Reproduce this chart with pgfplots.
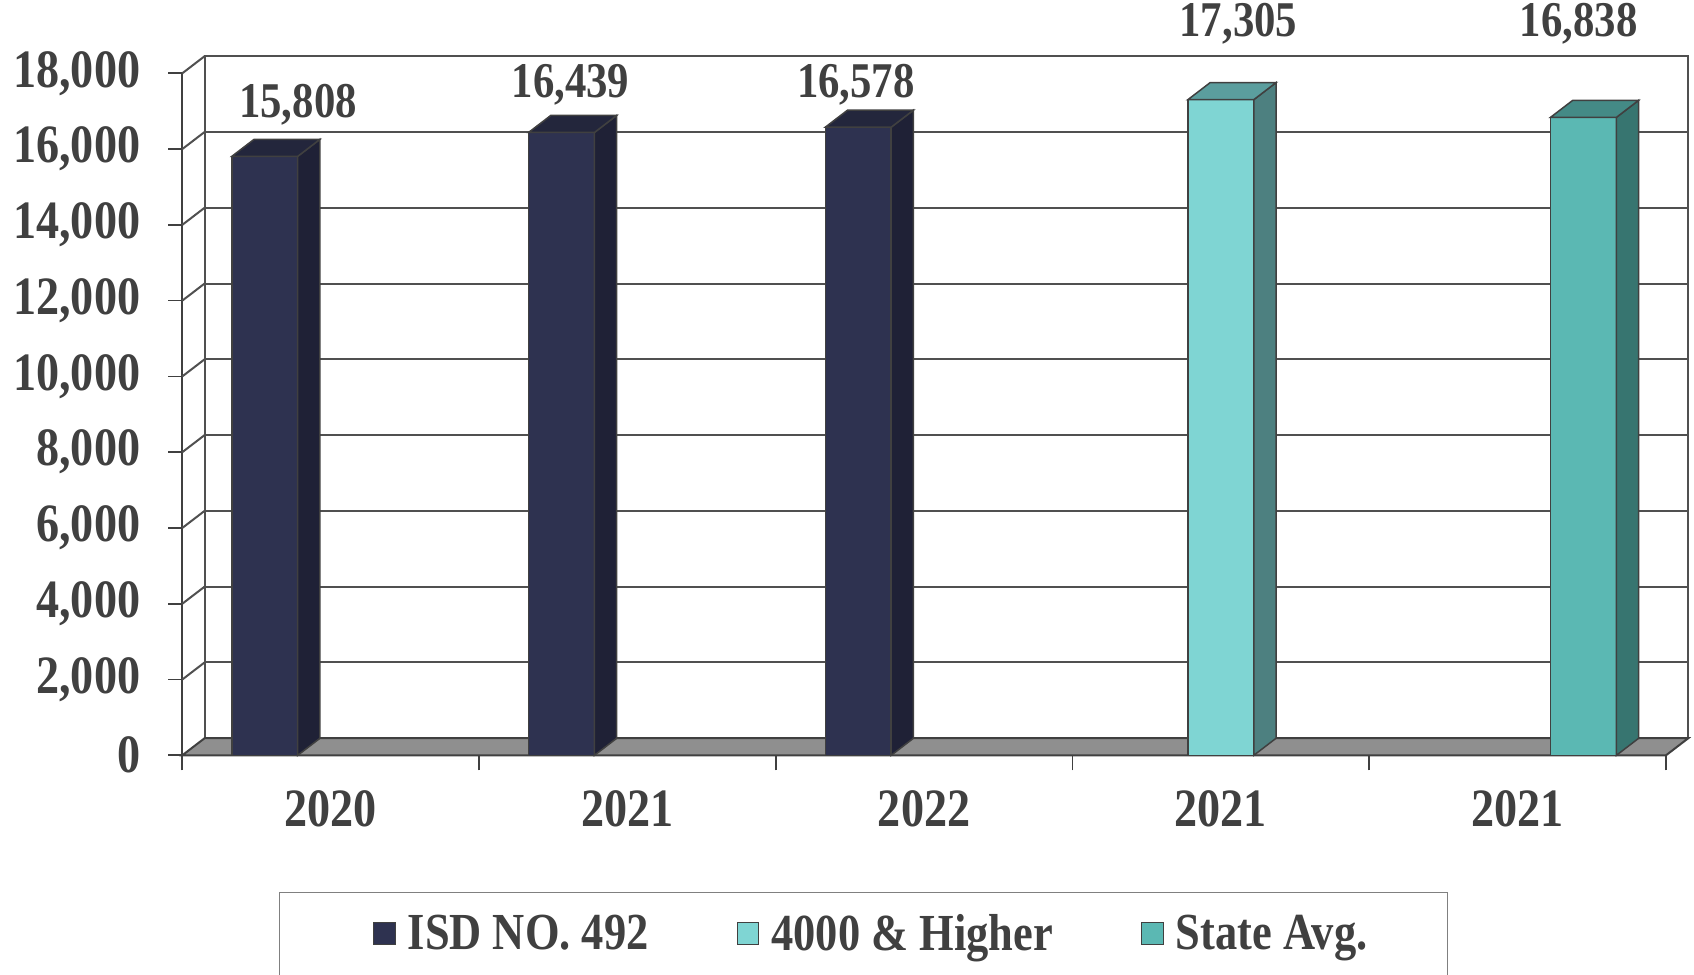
\documentclass[border=0pt]{standalone}
\usepackage{pgfplots}
\pgfplotsset{compat=1.18}
\usepackage{fontspec}
\setmainfont{Liberation Serif}[FakeStretch=0.855]
\definecolor{txt}{RGB}{64,64,64}
\definecolor{edge}{RGB}{64,64,64}
\definecolor{gridc}{RGB}{80,80,80}
\definecolor{floorc}{RGB}{143,143,143}
\definecolor{isdF}{RGB}{46,50,80}
\definecolor{isdS}{RGB}{31,33,54}
\definecolor{isdT}{RGB}{35,38,60}
\definecolor{hiF}{RGB}{127,213,211}
\definecolor{hiS}{RGB}{77,128,128}
\definecolor{hiT}{RGB}{91,158,158}
\definecolor{stF}{RGB}{91,184,179}
\definecolor{stS}{RGB}{55,117,112}
\definecolor{stT}{RGB}{68,138,134}
\pgfplotsset{
  mybar/.style={ybar, bar width=0.222, draw=edge, line width=0.75pt,
    legend image code/.code={\draw[##1, draw=edge, line width=0.6pt] (0pt,-5.4pt) rectangle (10.8pt,5.4pt);}},
  face/.style={draw=edge, line width=0.75pt, forget plot, mark=none},
}
\begin{document}
\begin{tikzpicture}
\begin{axis}[
  scale only axis, width=741.85pt, height=341pt,
  xmin=-0.5, xmax=4.5, ymin=0, ymax=18000,
  clip=false,
  axis x line*=bottom, axis y line*=left,
  axis line style={draw=edge, line width=1pt},
  xtick={0,1,2,3,4}, xticklabels={2020,2021,2022,2021,2021},
  minor xtick={-0.5,0.5,1.5,2.5,3.5,4.5},
  ytick={0,2000,...,18000},
  tick align=outside,
  major tick length=7pt, minor tick length=7.5pt,
  major x tick style={draw=none},
  tick style={draw=edge, line width=0.8pt},
  /pgf/number format/.cd, assume math mode=true, 1000 sep={,}, fixed, precision=0, /pgfplots/.cd,
  scaled y ticks=false,
  ticklabel style={font=\bfseries\fontsize{27}{30}\selectfont, text=txt},
  yticklabel shift=10.5pt,
  xticklabel shift=7pt,
  legend style={draw=none, fill=none, at={(0.4677,-0.2613)}, anchor=center,
    legend columns=3, font=\bfseries\fontsize{26}{28}\selectfont, text=txt,
    nodes={inner xsep=6pt},
    /tikz/every even column/.append style={column sep=38pt}},
]
% back wall and side wall
\draw[gridc, line width=1pt] (axis cs:-0.425,450) -- (axis cs:-0.425,18450) -- (axis cs:4.575,18450) -- (axis cs:4.575,450);
\draw[gridc, line width=1pt] (axis cs:-0.425,2450) -- (axis cs:4.575,2450);
\draw[gridc, line width=1pt] (axis cs:-0.425,4450) -- (axis cs:4.575,4450);
\draw[gridc, line width=1pt] (axis cs:-0.425,6450) -- (axis cs:4.575,6450);
\draw[gridc, line width=1pt] (axis cs:-0.425,8450) -- (axis cs:4.575,8450);
\draw[gridc, line width=1pt] (axis cs:-0.425,10450) -- (axis cs:4.575,10450);
\draw[gridc, line width=1pt] (axis cs:-0.425,12450) -- (axis cs:4.575,12450);
\draw[gridc, line width=1pt] (axis cs:-0.425,14450) -- (axis cs:4.575,14450);
\draw[gridc, line width=1pt] (axis cs:-0.425,16450) -- (axis cs:4.575,16450);
\draw[gridc, line width=1pt] (axis cs:-0.5,2000) -- (axis cs:-0.425,2450);
\draw[gridc, line width=1pt] (axis cs:-0.5,4000) -- (axis cs:-0.425,4450);
\draw[gridc, line width=1pt] (axis cs:-0.5,6000) -- (axis cs:-0.425,6450);
\draw[gridc, line width=1pt] (axis cs:-0.5,8000) -- (axis cs:-0.425,8450);
\draw[gridc, line width=1pt] (axis cs:-0.5,10000) -- (axis cs:-0.425,10450);
\draw[gridc, line width=1pt] (axis cs:-0.5,12000) -- (axis cs:-0.425,12450);
\draw[gridc, line width=1pt] (axis cs:-0.5,14000) -- (axis cs:-0.425,14450);
\draw[gridc, line width=1pt] (axis cs:-0.5,16000) -- (axis cs:-0.425,16450);
\draw[gridc, line width=1pt] (axis cs:-0.5,18000) -- (axis cs:-0.425,18450);
% floor
\filldraw[fill=floorc, draw=edge, line width=1pt] (axis cs:-0.5,0) -- (axis cs:4.5,0) -- (axis cs:4.575,450) -- (axis cs:-0.425,450) -- cycle;
% front faces
\addplot[mybar, fill=isdF, bar shift=-0.222] coordinates {(0,15808) (1,16439) (2,16578)};
\addlegendentry{ISD NO. 492}
\addplot[mybar, fill=hiF, bar shift=0] coordinates {(3,17305)};
\addlegendentry{4000 \& Higher}
\addplot[mybar, fill=stF, bar shift=0.222] coordinates {(4,16838)};
\addlegendentry{State Avg.}
% side faces
\addplot[face, fill=isdS] coordinates {(-0.111,0) (-0.036,450) (-0.036,16258) (-0.111,15808)} -- cycle;
\addplot[face, fill=isdS] coordinates {(0.889,0) (0.964,450) (0.964,16889) (0.889,16439)} -- cycle;
\addplot[face, fill=isdS] coordinates {(1.889,0) (1.964,450) (1.964,17028) (1.889,16578)} -- cycle;
\addplot[face, fill=hiS] coordinates {(3.111,0) (3.186,450) (3.186,17755) (3.111,17305)} -- cycle;
\addplot[face, fill=stS] coordinates {(4.333,0) (4.408,450) (4.408,17288) (4.333,16838)} -- cycle;
% top faces
\addplot[face, fill=isdT] coordinates {(-0.333,15808) (-0.111,15808) (-0.036,16258) (-0.258,16258)} -- cycle;
\addplot[face, fill=isdT] coordinates {(0.667,16439) (0.889,16439) (0.964,16889) (0.742,16889)} -- cycle;
\addplot[face, fill=isdT] coordinates {(1.667,16578) (1.889,16578) (1.964,17028) (1.742,17028)} -- cycle;
\addplot[face, fill=hiT] coordinates {(2.889,17305) (3.111,17305) (3.186,17755) (2.964,17755)} -- cycle;
\addplot[face, fill=stT] coordinates {(4.111,16838) (4.333,16838) (4.408,17288) (4.186,17288)} -- cycle;
% value labels
\addplot[draw=none, mark=none, forget plot, nodes near coords, point meta=explicit,
  nodes near coords align=center,
  every node near coord/.append style={font=\bfseries\fontsize{25}{28}\selectfont, text=txt, anchor=center}]
  table[x=x, y=y, meta=v] {
x y v
-0.110 17168 15808
0.808 17709 16439
1.770 17709 16578
3.059 19306 17305
4.206 19306 16838
};
% legend frame
\draw[black!50, line width=0.7pt] (axis description cs:0.0657,-0.201) rectangle (axis description cs:0.8529,-0.34);
\end{axis}
\pgfresetboundingbox
\useasboundingbox (-91.15pt,-109.85pt) rectangle (755.85pt,377.65pt);
\end{tikzpicture}
\end{document}
